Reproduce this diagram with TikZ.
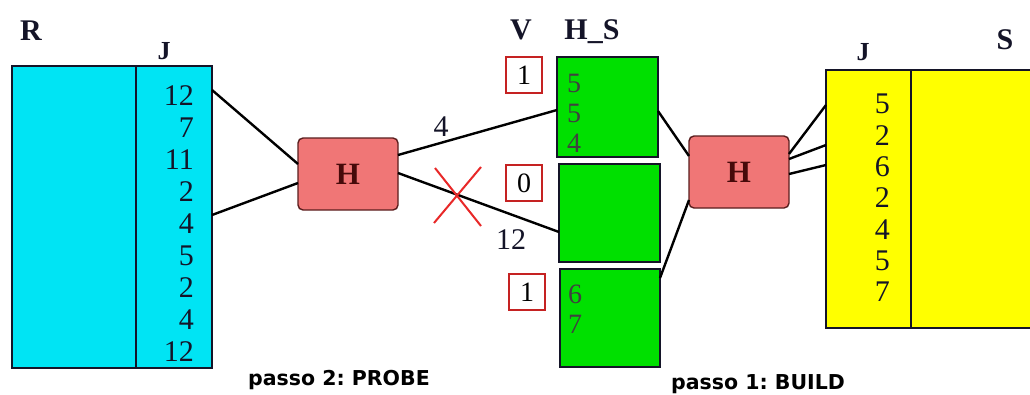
\documentclass[tikz,border=0pt]{standalone}
\usepackage{fontspec}
\setmainfont{Liberation Serif}
\newfontfamily\labfont{DejaVu Sans}
\usetikzlibrary{calc}
\definecolor{rcyan}{RGB}{0,228,244}
\definecolor{hgreen}{RGB}{0,224,0}
\definecolor{syellow}{RGB}{255,255,0}
\definecolor{hfill}{RGB}{240,118,118}
\definecolor{hborder}{RGB}{90,30,30}
\definecolor{hletter}{RGB}{70,10,10}
\definecolor{xred}{RGB}{232,40,40}
\definecolor{ink}{RGB}{20,20,40}
\begin{document}
\begin{tikzpicture}[x=1pt,y=-1pt,
  tbl/.style={draw=ink,line width=1.4pt,inner sep=0pt,outer sep=0pt,anchor=north west},
  hbox/.style={draw=hborder,fill=hfill,line width=1.4pt,rounded corners=5pt,inner sep=0pt,outer sep=0pt,
     minimum width=100pt,minimum height=72pt,font=\fontsize{31}{31}\selectfont\bfseries,text=hletter},
  vbox/.style={draw=xred!85!black,fill=white,line width=1.2pt,inner sep=0pt,outer sep=0pt,
     minimum width=36pt,minimum height=36pt,anchor=north west,font=\fontsize{28}{28}\selectfont},
  num/.style={inner sep=0pt,font=\fontsize{30}{30}\selectfont,text=ink},
  gnum/.style={inner sep=0pt,font=\fontsize{28}{28}\selectfont,text=black!75,anchor=west},
  head/.style={inner sep=0pt,font=\fontsize{30}{30}\selectfont\bfseries,text=ink},
  jhead/.style={inner sep=0pt,font=\fontsize{26}{26}\selectfont\bfseries,text=ink},
  link/.style={draw=black,line width=2.4pt},
  xmark/.style={draw=xred,line width=2pt},
  step label/.style={inner sep=0pt,font=\labfont\bfseries\fontsize{20.5}{20.5}\selectfont,anchor=west}]
\useasboundingbox (0,0) rectangle (1030,394);
\fill[white] (0,0) rectangle (1030,394);

% --- relation R
\node[tbl,fill=rcyan,minimum width=124pt,minimum height=302pt] (R) at (12,66) {};
\node[tbl,fill=rcyan,minimum width=76pt,minimum height=302pt] (RJ) at (136,66) {};
\foreach \v [count=\i from 0] in {12,7,11,2,4,5,2,4,12}
  \node[num,anchor=east] (rj\i) at (194,{96+31.9*\i}) {\v};
\node[head] (Rlab) at (31,31) {R};
\node[jhead] (RJlab) at (164,51) {J};

% --- hash function probe
\node[hbox] (Hp) at (348,174) {H};

% --- V and H_S
\node[head] (Vlab) at (521,30) {V};
\node[head] (HSlab) at (592,32) {H\_S};
\node[tbl,fill=hgreen,minimum width=101pt,minimum height=100pt] (G1) at (557,57) {};
\node[tbl,fill=hgreen,minimum width=101pt,minimum height=98pt] (G2) at (559,164) {};
\node[tbl,fill=hgreen,minimum width=100pt,minimum height=98pt] (G3) at (560,269) {};
\node[vbox] (V1) at (506,57) {1};
\node[vbox] (V2) at (506,165) {0};
\node[vbox] (V3) at (509,274) {1};
\node[gnum] (g1a) at (567,83) {5};
\node[gnum] (g1b) at (567,113) {5};
\node[gnum] (g1c) at (567,143) {4};
\node[gnum] (g3a) at (568,294) {6};
\node[gnum] (g3b) at (568,324) {7};

% --- hash function build
\node[hbox] (Hb) at (739,172) {H};

% --- relation S
\node[tbl,fill=syellow,minimum width=85pt,minimum height=258pt] (SJ) at (826,70) {};
\node[tbl,fill=syellow,minimum width=130pt,minimum height=258pt] (S) at (911,70) {};
\foreach \v [count=\i from 0] in {5,2,6,2,4,5,7}
  \node[num,anchor=east] (sj\i) at (890,{104+31.3*\i}) {\v};
\node[jhead] (SJlab) at (863,52) {J};
\node[head] (Slab) at (1005,40) {S};

% --- probe connectors
\draw[link] ($(RJ.north east)+(0,24)$) -- ($(Hp.north west)+(0,26)$);
\draw[link] ($(RJ.north east)+(0,149)$) -- ($(Hp.north west)+(0,45)$);
\draw[link] ($(Hp.north east)+(0,17)$) -- ($(G1.north west)+(0,53)$);
\draw[link] ($(Hp.north east)+(0,35)$) -- ($(G2.north west)+(0,68)$);
\node[num] (l4) at (441,127) {4};
\node[num] (l12) at (511,240) {12};
\draw[xmark] (435,168) -- (481,226);
\draw[xmark] (481,167) -- (434,223);

% --- build connectors
\draw[link] ($(G1.north east)+(0,54)$) -- ($(Hb.north west)+(0,20)$);
\draw[link] ($(G3.north east)+(0,9)$) -- ($(Hb.north west)+(0,64)$);
\draw[link] ($(Hb.north east)+(0,18)$) -- ($(SJ.north west)+(0,35)$);
\draw[link] ($(Hb.north east)+(0,23)$) -- ($(SJ.north west)+(0,75)$);
\draw[link] ($(Hb.north east)+(0,38)$) -- ($(SJ.north west)+(0,95)$);

% --- step labels
\node[step label] (probe) at (248,380) {passo 2:\ PROBE};
\node[step label] (build) at (671,384) {passo 1:\ BUILD};
\end{tikzpicture}
\end{document}
